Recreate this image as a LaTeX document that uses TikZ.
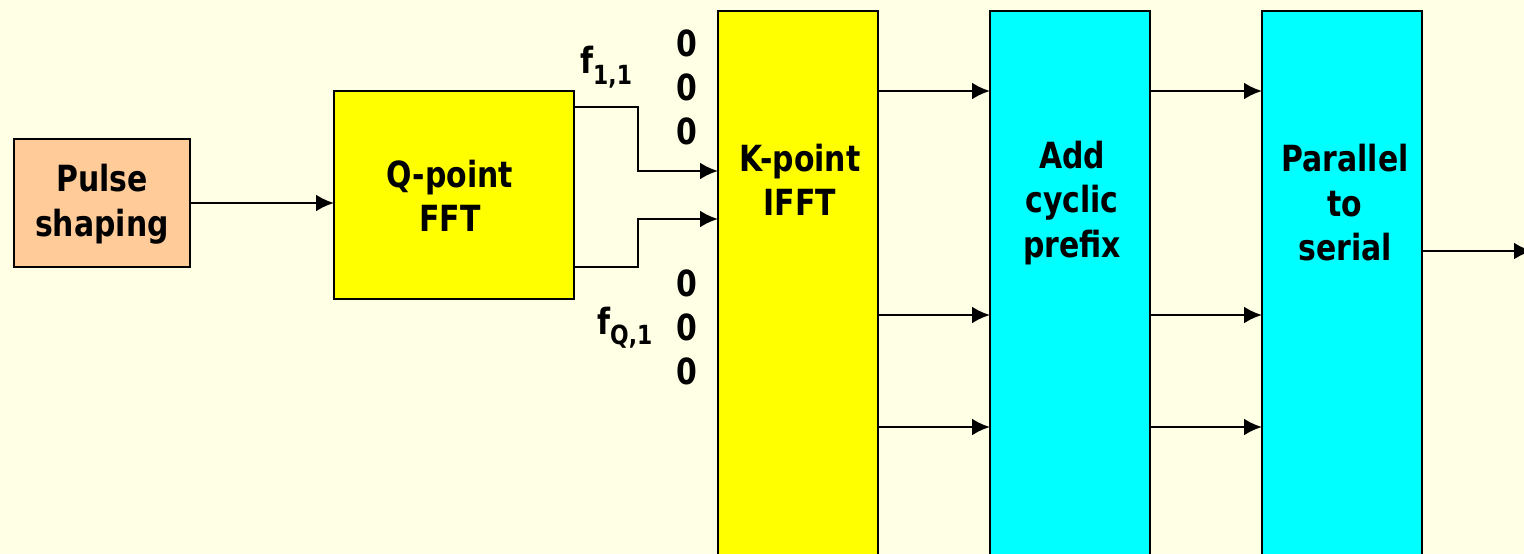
\documentclass[tikz,border=0pt]{standalone}
\usepackage{fontspec}
\setmainfont[FakeStretch=0.83]{DejaVu Sans}
\definecolor{cream}{RGB}{255,255,229}
\definecolor{peach}{RGB}{255,204,153}
\definecolor{fftyellow}{RGB}{255,255,0}
\definecolor{cpcyan}{RGB}{0,255,255}
\usepackage{tikz}
\usetikzlibrary{arrows.meta, positioning, calc}

\newcommand{\lowsub}[1]{\raisebox{-0.55ex}{\fontsize{15}{15}\selectfont #1}}

\tikzset{
	blk/.style={draw=black, line width=1.5pt, inner sep=0pt, outer sep=0pt},
	txt/.style={font=\fontsize{20.5}{25.3}\selectfont\bfseries, align=center},
	zero/.style={font=\fontsize{20.5}{22}\selectfont\bfseries},
	sig/.style={line width=1.5pt, -{Latex[length=0.36cm,width=0.34cm]}}
}

\begin{document}
\begin{tikzpicture}[x=0.02cm,y=-0.02cm]
			\useasboundingbox (0,0) rectangle (1524,554);
			\clip (0,0) rectangle (1524,554);
			\fill[cream] (0,0) rectangle (1524,554);
			
			% blocks
			\node[blk, fill=peach, minimum width=3.52cm, minimum height=2.56cm] (pulse) at (102,203) {};
			\node[blk, fill=fftyellow, minimum width=4.8cm, minimum height=4.16cm] (qfft) at (454,195) {};
			\node[blk, fill=fftyellow, minimum width=3.2cm, minimum height=12cm, anchor=north] (kifft) at (798,11) {};
			\node[blk, fill=cpcyan, minimum width=3.2cm, minimum height=12cm, anchor=north] (addcp) at (1070,11) {};
			\node[blk, fill=cpcyan, minimum width=3.2cm, minimum height=12cm, anchor=north] (ps) at (1342,11) {};
			
			% block texts
			\node[txt] (tpulse) at (102,204) {Pulse\\shaping};
			\node[txt] (tqfft) at (450,196) {Q-point\\FFT};
			\node[txt] (tkifft) at (800,180) {K-point\\IFFT};
			\node[txt] (taddcp) at (1072,203) {Add\\cyclic\\prefix};
			\node[txt] (tps) at (1345,203) {Parallel\\to\\serial};
			
			% zero padding
			\foreach \y/\n in {43/1,87/2,131/3,283/4,327/5,371/6}
			\node[zero] (z\n) at (687,\y) {0};
			
			\node[zero, anchor=base west] (f11) at (574,74) {f\lowsub{1,1}};
			\node[zero, anchor=base west] (fq1) at (591,334) {f\lowsub{Q,1}};
			
			% rows
			\coordinate (in1) at (0,171);
			\coordinate (in2) at (0,219);
			\coordinate (r1) at (0,91);
			\coordinate (r2) at (0,315);
			\coordinate (r3) at (0,427);
			\coordinate (out) at (1532,251);
			
			\draw[sig] (pulse.east) -- (qfft.west |- pulse.east);
			\draw[sig] ($(qfft.north east)+(0,16)$) -- ++(64,0) |- (kifft.west |- in1);
			\draw[sig] ($(qfft.south east)+(0,-32)$) -- ++(64,0) |- (kifft.west |- in2);
			\foreach \r in {r1,r2,r3}
			{
				\draw[sig] (kifft.east |- \r) -- (addcp.west |- \r);
				\draw[sig] (addcp.east |- \r) -- (ps.west |- \r);
			}
			\draw[sig] (ps.east |- out) -- (out);
			
		\end{tikzpicture}
\end{document}
